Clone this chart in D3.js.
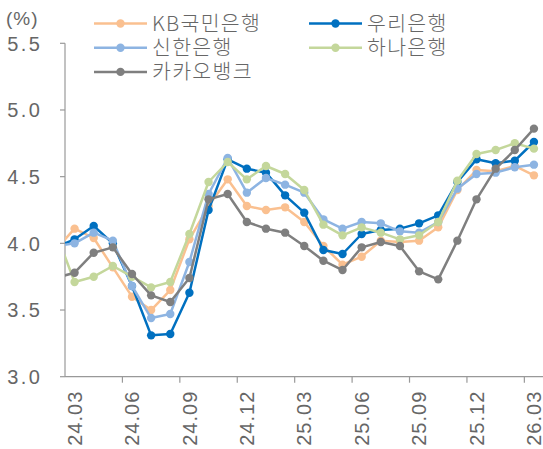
<!DOCTYPE html>
<html>
<head>
<meta charset="utf-8">
<script src="https://cdn.jsdelivr.net/npm/d3@7"></script>
<style>
  html, body { margin: 0; padding: 0; background: #fff; }
  svg text { font-family: "Liberation Sans", Arial, "Noto Sans CJK KR", sans-serif; fill: #666; }
  .kr { font-family: "Noto Sans CJK KR", sans-serif; font-weight: 300; }
</style>
</head>
<body>
<svg id="chart" width="543" height="449"></svg>
<script>
// 월 (첫 24.02는 축 밖으로 잘려 나가는 값)
const months = ["24.02","24.03","24.04","24.05","24.06","24.07","24.08","24.09","24.10","24.11","24.12",
                "25.01","25.02","25.03","25.04","25.05","25.06","25.07","25.08","25.09","25.10","25.11","25.12",
                "26.01","26.02","26.03"];
const tickMonths = ["24.03","24.06","24.09","24.12","25.03","25.06","25.09","25.12","26.03"];
const yTicks = [3.0, 3.5, 4.0, 4.5, 5.0, 5.5];

const kb     = [3.95,4.11,4.04,3.82,3.60,3.50,3.65,4.03,4.28,4.48,4.28,4.25,4.27,4.16,3.98,3.84,3.90,4.02,4.01,4.02,4.12,4.40,4.55,4.54,4.58,4.51];
const woori  = [3.97,4.03,4.13,4.00,3.68,3.31,3.32,3.63,4.25,4.63,4.56,4.53,4.36,4.23,3.95,3.92,4.07,4.10,4.11,4.15,4.21,4.46,4.63,4.60,4.62,4.76];
const shinhan= [3.98,4.00,4.08,4.02,3.68,3.44,3.47,3.86,4.37,4.64,4.38,4.49,4.44,4.38,4.18,4.11,4.16,4.15,4.09,4.08,4.16,4.41,4.52,4.53,4.57,4.59];
const hana   = [4.09,3.71,3.75,3.83,3.75,3.67,3.71,4.07,4.46,4.61,4.48,4.58,4.52,4.40,4.14,4.06,4.12,4.08,4.03,4.06,4.16,4.47,4.67,4.70,4.75,4.71];
const kakao  = [3.74,3.78,3.93,3.97,3.77,3.61,3.56,3.74,4.33,4.37,4.16,4.11,4.08,3.98,3.87,3.80,3.97,4.01,3.98,3.79,3.73,4.02,4.33,4.56,4.70,4.86];

const series = [
  { name: "KB국민은행", values: kb,      color: "#FAC090" },
  { name: "우리은행",   values: woori,   color: "#0070C0" },
  { name: "신한은행",   values: shinhan, color: "#8DB4E2" },
  { name: "하나은행",   values: hana,    color: "#C4D79B" },
  { name: "카카오뱅크", values: kakao,   color: "#7F7F7F" }
];

const svg = d3.select("#chart");
const pLeft = 65, pRight = 543.5, pTop = 43.3, pBottom = 376.7;
const step = (pRight - pLeft) / (months.length - 1);

const x = d3.scaleBand().domain(months).range([pLeft - step, pRight]).paddingInner(0).paddingOuter(0);
const cx = m => x(m) + x.bandwidth() / 2;
const y = d3.scaleLinear().domain([3, 5.5]).range([pBottom, pTop]);

// 축
const axisColor = "#999";
svg.append("line").attr("x1", pLeft).attr("x2", pLeft).attr("y1", pTop).attr("y2", pBottom)
   .attr("stroke", axisColor).attr("stroke-width", 1.2);
svg.append("line").attr("x1", pLeft).attr("x2", pRight).attr("y1", pBottom).attr("y2", pBottom)
   .attr("stroke", axisColor).attr("stroke-width", 1.2);

svg.selectAll("line.ytick").data(yTicks).join("line").attr("class", "ytick")
   .attr("x1", pLeft - 5).attr("x2", pLeft).attr("y1", d => y(d)).attr("y2", d => y(d))
   .attr("stroke", axisColor).attr("stroke-width", 1.2);
svg.selectAll("text.ylab").data(yTicks).join("text").attr("class", "ylab")
   .attr("x", 42.5).attr("y", d => y(d)).attr("dy", "0.36em")
   .attr("text-anchor", "end").attr("font-size", 20).attr("letter-spacing", 2.5)
   .text(d3.format(".1f"));

svg.selectAll("line.xtick").data(tickMonths.slice(1)).join("line").attr("class", "xtick")
   .attr("x1", d => x(d)).attr("x2", d => x(d)).attr("y1", pBottom).attr("y2", pBottom + 6)
   .attr("stroke", axisColor).attr("stroke-width", 1.2);
svg.selectAll("text.xlab").data(tickMonths).join("text").attr("class", "xlab")
   .attr("transform", d => `translate(${cx(d)},${pBottom + 14}) rotate(-90)`)
   .attr("dy", "0.36em").attr("text-anchor", "end").attr("font-size", 20).attr("letter-spacing", 1)
   .text(d => d);

svg.append("text").attr("x", 6).attr("y", 18).attr("dy", "0.35em")
   .attr("font-size", 19).attr("letter-spacing", 1).text("(%)");

// 선 (축 왼쪽은 잘라냄)
svg.append("clipPath").attr("id", "plot").append("rect")
   .attr("x", pLeft).attr("y", 0).attr("width", pRight - pLeft + 10).attr("height", 449);

const line = d3.line().x((d, i) => cx(months[i])).y(d => y(d));
const g = svg.append("g").attr("clip-path", "url(#plot)");
series.forEach(s => {
  g.append("path").datum(s.values).attr("d", line)
   .attr("fill", "none").attr("stroke", s.color).attr("stroke-width", 2.5)
   .attr("stroke-linejoin", "round");
  g.selectAll(null).data(s.values).join("circle")
   .attr("cx", (d, i) => cx(months[i])).attr("cy", d => y(d)).attr("r", 4.2)
   .attr("fill", s.color);
});

// 범례
const legendPos = [[94, 23.5], [309, 23.5], [94, 47.7], [309, 47.7], [94, 71.9]];
series.forEach((s, i) => {
  const [lx, ly] = legendPos[i];
  const lg = svg.append("g").attr("transform", `translate(${lx},${ly})`);
  lg.append("line").attr("x1", 0).attr("x2", 53).attr("y1", 0).attr("y2", 0)
    .attr("stroke", s.color).attr("stroke-width", 2.5);
  lg.append("circle").attr("cx", 26.5).attr("cy", 0).attr("r", 4.2).attr("fill", s.color);
  lg.append("text").attr("class", "kr").attr("x", 58).attr("y", 0).attr("dy", "0.36em")
    .attr("font-size", 20.5).attr("letter-spacing", 1.3).text(s.name);
});
</script>
</body>
</html>
